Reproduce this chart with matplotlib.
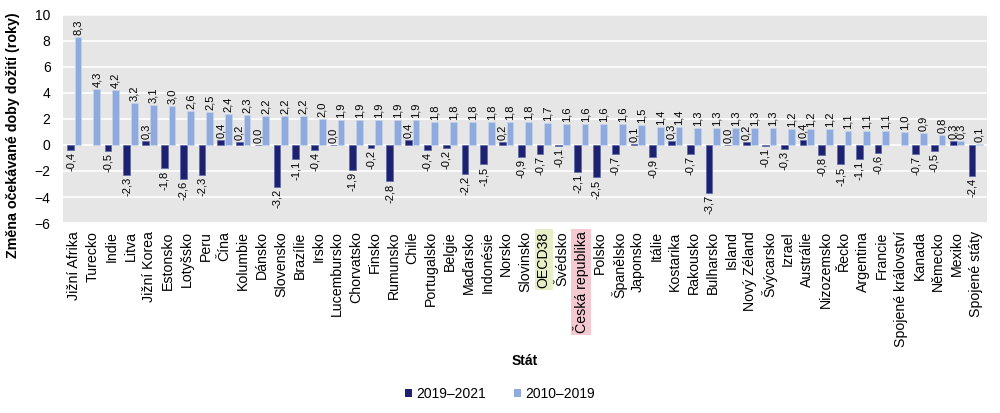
import numpy as np
import matplotlib.pyplot as plt
from matplotlib.patches import Patch

plt.rcParams['font.family'] = ['Liberation Sans', 'DejaVu Sans']

# data
staty = ["Jižní Afrika", "Turecko", "Indie", "Litva", "Jižní Korea", "Estonsko",
         "Lotyšsko", "Peru", "Čína", "Kolumbie", "Dánsko", "Slovensko", "Brazílie",
         "Irsko", "Lucembursko", "Chorvatsko", "Finsko", "Rumunsko", "Chile",
         "Portugalsko", "Belgie", "Maďarsko", "Indonésie", "Norsko", "Slovinsko",
         "OECD38", "Švédsko", "Česká republika", "Polsko", "Španělsko", "Japonsko",
         "Itálie", "Kostarika", "Rakousko", "Bulharsko", "Island", "Nový Zéland",
         "Švýcarsko", "Izrael", "Austrálie", "Nizozemsko", "Řecko", "Argentina",
         "Francie", "Spojené království", "Kanada", "Německo", "Mexiko", "Spojené státy"]

zmena_2019_2021 = [-0.4, np.nan, -0.5, -2.3, 0.3, -1.8, -2.6, -2.3, 0.4, 0.2, 0.0, -3.2, -1.1,
                   -0.4, 0.0, -1.9, -0.2, -2.8, 0.4, -0.4, -0.2, -2.2, -1.5, 0.2, -0.9,
                   -0.7, -0.1, -2.1, -2.5, -0.7, 0.1, -0.9, 0.3, -0.7, -3.7, 0.0, 0.2,
                   -0.1, -0.3, 0.4, -0.8, -1.5, -1.1, -0.6, np.nan, -0.7, -0.5, 0.3, -2.4]

zmena_2010_2019 = [8.3, 4.3, 4.2, 3.2, 3.1, 3.0, 2.6, 2.5, 2.4, 2.3, 2.2, 2.2, 2.2,
                   2.0, 1.9, 1.9, 1.9, 1.9, 1.9, 1.8, 1.8, 1.8, 1.8, 1.8, 1.8,
                   1.7, 1.6, 1.6, 1.6, 1.6, 1.5, 1.4, 1.4, 1.3, 1.3, 1.3, 1.3,
                   1.3, 1.2, 1.2, 1.2, 1.1, 1.1, 1.1, 1.0, 0.9, 0.8, 0.3, 0.1]

zvyrazneni = {"OECD38": "#e6efc6", "Česká republika": "#f5c9d0"}

TMAVA = "#1e2170"
SVETLA = "#8faadc"

def fmt(v):
    return f"{v:.1f}".replace(".", ",")

fig, ax = plt.subplots(figsize=(10, 4.13), dpi=100)
fig.subplots_adjust(left=0.063, right=0.987, top=0.964, bottom=0.46)

x = np.arange(len(staty))
w = 0.36
ax.set_facecolor("#e6e6e6")
ax.bar(x - w / 2 - 0.02, zmena_2019_2021, width=w, color=TMAVA, edgecolor="#5a6aa8",
       linewidth=0.5, zorder=3)
ax.bar(x + w / 2 + 0.02, zmena_2010_2019, width=w, color=SVETLA, edgecolor="#c9d6ee",
       linewidth=0.4, zorder=3)

# popisky hodnot
for i in range(len(staty)):
    v = zmena_2019_2021[i]
    if not np.isnan(v):
        if v >= 0:
            ax.text(x[i] - w / 2 - 0.02, v + 0.15, fmt(v), rotation=90, ha="center",
                    va="bottom", fontsize=8, zorder=4)
        else:
            ax.text(x[i] - w / 2 - 0.02, v - 0.15, fmt(v), rotation=90, ha="center",
                    va="top", fontsize=8, zorder=4)
    v = zmena_2010_2019[i]
    ax.text(x[i] + w / 2 + 0.02, v + 0.15, fmt(v), rotation=90, ha="center",
            va="bottom", fontsize=8, zorder=4)

ax.set_ylim(-6, 10)
ax.set_yticks(range(-6, 11, 2))
ax.set_xlim(-0.6, len(staty) - 0.4)
ax.grid(axis="y", color="white", linewidth=1.2, zorder=1)
ax.set_axisbelow(True)
for s in ax.spines.values():
    s.set_visible(False)
ax.tick_params(axis="both", length=0)
ax.tick_params(axis="y", labelsize=10, pad=9)
ax.tick_params(axis="x", pad=6)
ax.set_xticks(x)
ax.set_xticklabels(staty, rotation=90, fontsize=10.2)
for lbl in ax.get_xticklabels():
    t = lbl.get_text()
    if t in zvyrazneni:
        lbl.set_bbox(dict(facecolor=zvyrazneni[t], edgecolor="none", pad=1.5))

ax.set_ylabel("Změna očekávané doby dožití (roky)", fontsize=10.3, fontweight="bold")
ax.yaxis.set_label_coords(-0.047, 0.42)
ax.set_xlabel("Stát", fontsize=10, fontweight="bold", labelpad=5)

handles = [Patch(facecolor=TMAVA, label="2019–2021"),
           Patch(facecolor=SVETLA, label="2010–2019")]
fig.legend(handles=handles, loc="lower center", bbox_to_anchor=(0.5, 0.0), ncol=2,
           frameon=False, fontsize=10, handlelength=0.5, handleheight=0.5,
           columnspacing=2.0, handletextpad=0.3)

plt.savefig("out.png", dpi=100)
